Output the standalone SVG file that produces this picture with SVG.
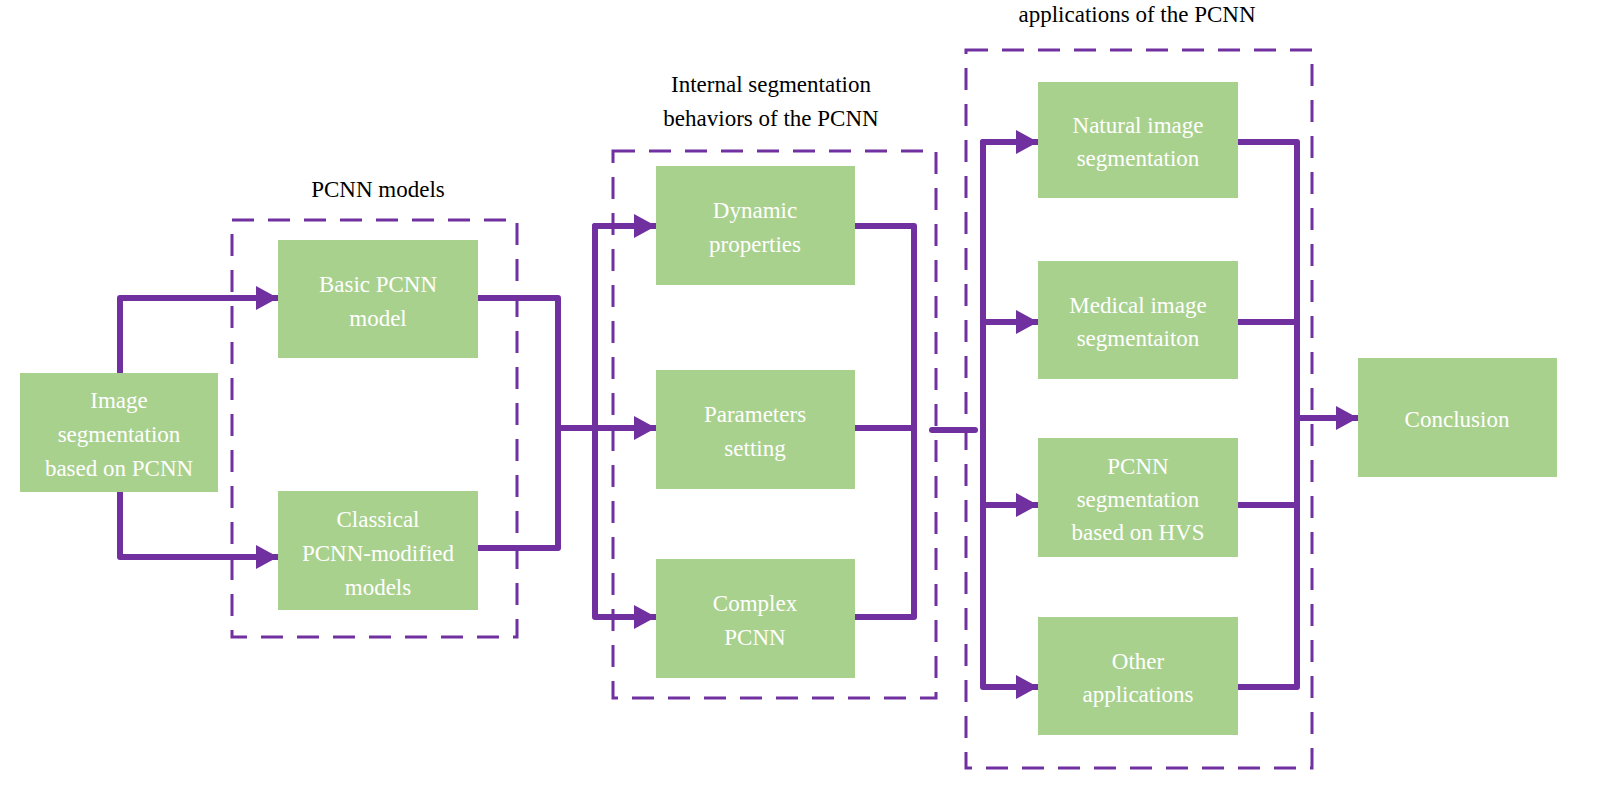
<svg xmlns="http://www.w3.org/2000/svg" width="1621" height="802" viewBox="0 0 1621 802">
<style>
.n{fill:#a9d18e}
.t{font-family:"Liberation Serif","Times New Roman","DejaVu Serif",serif;font-size:23px;fill:#fff;text-anchor:middle}
.h{font-family:"Liberation Serif","Times New Roman","DejaVu Serif",serif;font-size:23px;fill:#000;text-anchor:middle}
.d{fill:none;stroke:#7030a0;stroke-width:3;stroke-dasharray:22,14}
.c{fill:none;stroke:#7030a0;stroke-width:6;stroke-linecap:round;stroke-linejoin:round}
</style>
<defs><marker id="a" markerWidth="24" markerHeight="24" refX="22" refY="12" orient="auto" markerUnits="userSpaceOnUse"><path d="M0,0L22,12L0,24z" fill="#7030a0"/></marker></defs>
<rect width="1621" height="802" fill="#fff"/>
<g id="groups">
<rect class="d" x="232" y="220" width="285" height="417"/>
<rect class="d" x="613" y="151" width="323" height="547"/>
<rect class="d" x="966" y="50" width="346" height="718"/>
<text class="h" x="378" y="197">PCNN models</text>
<text class="h" x="771" y="92">Internal segmentation</text>
<text class="h" x="771" y="126">behaviors of the PCNN</text>
<text class="h" x="1137" y="22">applications of the PCNN</text>
</g>
<g id="connectors">
<path class="c" d="M120,373V298H278" marker-end="url(#a)"/>
<path class="c" d="M120,492V557H278" marker-end="url(#a)"/>
<path class="c" d="M478,298H558V548H478"/>
<path class="c" d="M558,428H656" marker-end="url(#a)"/>
<path class="c" d="M656,226H595V617H656" marker-end="url(#a)"/>
<path class="c" d="M595,226H656" marker-end="url(#a)"/>
<path class="c" d="M855,226H914V617H855"/>
<path class="c" d="M855,428H914"/>
<path class="c" d="M932,430H975"/>
<path class="c" d="M1038,142H983V687H1038" marker-end="url(#a)"/>
<path class="c" d="M983,142H1038" marker-end="url(#a)"/>
<path class="c" d="M983,322H1038" marker-end="url(#a)"/>
<path class="c" d="M983,505H1038" marker-end="url(#a)"/>
<path class="c" d="M1238,142H1297V687H1238"/>
<path class="c" d="M1238,322H1297M1238,505H1297"/>
<path class="c" d="M1297,418H1358" marker-end="url(#a)"/>
</g>
<g id="n1"><rect class="n" x="20" y="373" width="198" height="119"/><text class="t" x="119" y="408">Image</text><text class="t" x="119" y="442">segmentation</text><text class="t" x="119" y="476">based on PCNN</text></g>
<g id="n2"><rect class="n" x="278" y="240" width="200" height="118"/><text class="t" x="378" y="292">Basic PCNN</text><text class="t" x="378" y="326">model</text></g>
<g id="n3"><rect class="n" x="278" y="491" width="200" height="119"/><text class="t" x="378" y="527">Classical</text><text class="t" x="378" y="561">PCNN-modified</text><text class="t" x="378" y="595">models</text></g>
<g id="n4"><rect class="n" x="656" y="166" width="199" height="119"/><text class="t" x="755" y="218">Dynamic</text><text class="t" x="755" y="252">properties</text></g>
<g id="n5"><rect class="n" x="656" y="370" width="199" height="119"/><text class="t" x="755" y="422">Parameters</text><text class="t" x="755" y="456">setting</text></g>
<g id="n6"><rect class="n" x="656" y="559" width="199" height="119"/><text class="t" x="755" y="611">Complex</text><text class="t" x="755" y="645">PCNN</text></g>
<g id="n7"><rect class="n" x="1038" y="82" width="200" height="116"/><text class="t" x="1138" y="133">Natural image</text><text class="t" x="1138" y="166">segmentation</text></g>
<g id="n8"><rect class="n" x="1038" y="261" width="200" height="118"/><text class="t" x="1138" y="313">Medical image</text><text class="t" x="1138" y="346">segmentaiton</text></g>
<g id="n9"><rect class="n" x="1038" y="438" width="200" height="119"/><text class="t" x="1138" y="474">PCNN</text><text class="t" x="1138" y="507">segmentation</text><text class="t" x="1138" y="540">based on HVS</text></g>
<g id="n10"><rect class="n" x="1038" y="617" width="200" height="118"/><text class="t" x="1138" y="669">Other</text><text class="t" x="1138" y="702">applications</text></g>
<g id="n11"><rect class="n" x="1358" y="358" width="199" height="119"/><text class="t" x="1457" y="427">Conclusion</text></g>
</svg>
